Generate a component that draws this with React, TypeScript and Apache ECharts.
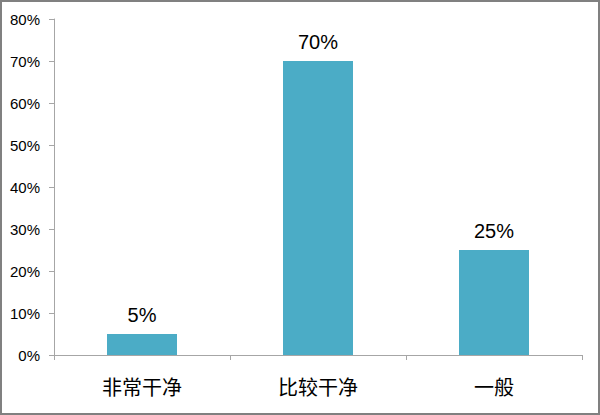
import { useEffect, useRef } from "react";
import * as echarts from "echarts";

const categories = ["非常干净", "比较干净", "一般"];
const values = [5, 70, 25];
const yTicks = [0, 10, 20, 30, 40, 50, 60, 70, 80];

export default function App() {
  const chartRef = useRef<HTMLDivElement>(null);

  useEffect(() => {
    document.body.style.margin = "0";
    if (!chartRef.current) return;
    const chart = echarts.init(chartRef.current, null, { renderer: "svg" });

    chart.setOption({
      animation: false,
      textStyle: { fontFamily: "Liberation Sans, Arial, sans-serif" },
      graphic: [
        {
          type: "rect",
          shape: { x: 1, y: 1, width: 598, height: 413 },
          style: { fill: "none", stroke: "#808080", lineWidth: 2 },
          silent: true,
        },
      ],
      grid: { left: 54, right: 18, top: 19, bottom: 60 },
      xAxis: {
        type: "category",
        data: categories,
        axisLine: { lineStyle: { color: "#a6a6a6", width: 1 } },
        axisTick: { show: true, length: 5, lineStyle: { color: "#a6a6a6" } },
        axisLabel: {
          color: "#000",
          fontSize: 20,
          margin: 21,
          fontFamily: "Noto Sans CJK SC, sans-serif",
        },
      },
      yAxis: {
        type: "value",
        min: yTicks[0],
        max: yTicks[yTicks.length - 1],
        interval: 10,
        axisLine: { show: true, lineStyle: { color: "#a6a6a6", width: 1 } },
        axisTick: { show: true, length: 5, lineStyle: { color: "#a6a6a6" } },
        splitLine: { show: false },
        axisLabel: {
          color: "#000",
          fontSize: 15,
          margin: 14,
          formatter: (v: number) => v + "%",
        },
      },
      series: [
        {
          type: "bar",
          data: values,
          barWidth: 70,
          itemStyle: { color: "#4bacc6" },
          label: {
            show: true,
            position: "top",
            distance: 9,
            color: "#000",
            fontSize: 20,
            formatter: (p: { value: number }) => p.value + "%",
          },
        },
      ],
    });

    return () => {
      chart.dispose();
    };
  }, []);

  return <div ref={chartRef} style={{ width: 600, height: 415 }} />;
}
